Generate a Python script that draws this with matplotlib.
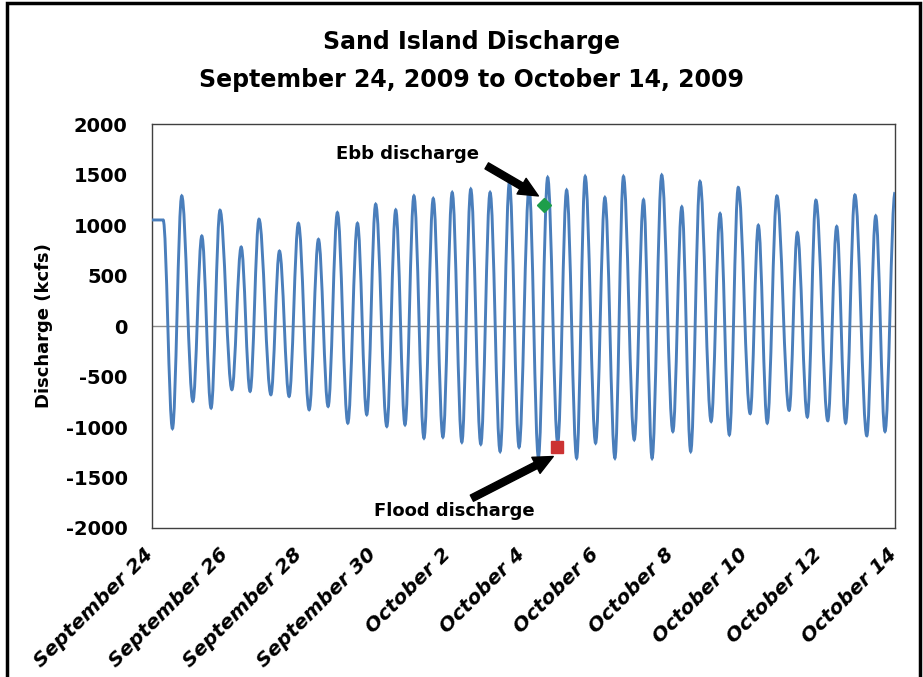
import numpy as np
import matplotlib.pyplot as plt
from matplotlib.path import Path
from matplotlib.patches import PathPatch, Rectangle

plt.rcParams["axes.unicode_minus"] = False

# tidal extrema: days after Sep 24 2009 00:00, discharge in kcfs
ext_day = [0.00, 0.30, 0.55, 0.80, 1.10, 1.34, 1.59, 1.83, 2.15, 2.40,
           2.64, 2.88, 3.20, 3.43, 3.69, 3.94, 4.23, 4.48, 4.74, 4.99,
           5.27, 5.53, 5.78, 6.02, 6.32, 6.56, 6.81, 7.05, 7.32, 7.57,
           7.83, 8.08, 8.34, 8.58, 8.85, 9.10, 9.37, 9.62, 9.88, 10.15,
           10.40, 10.65, 10.92, 11.16, 11.43, 11.66, 11.94, 12.19, 12.46, 12.69,
           12.98, 13.23, 13.46, 13.72, 14.02, 14.26, 14.50, 14.75, 15.05, 15.29,
           15.54, 15.78, 16.10, 16.32, 16.56, 16.82, 17.15, 17.37, 17.64, 17.87,
           18.19, 18.43, 18.67, 18.92, 19.24, 19.48, 19.73, 20.00]
ext_kcfs = [1050, 1050, -1015, 1288, -746, 891, -812, 1146, -630, 782,
            -647, 1057, -680, 742, -697, 1017, -829, 858, -796, 1123,
            -961, 1017, -878, 1206, -994, 1149, -978, 1288, -1110, 1262,
            -1100, 1322, -1150, 1355, -1170, 1322, -1242, 1421, -1200, 1370,
            -1300, 1471, -1160, 1345, -1308, 1481, -1159, 1272, -1308, 1481,
            -1126, 1249, -1310, 1494, -1044, 1179, -1242, 1431, -945, 1113,
            -1077, 1372, -868, 997, -961, 1288, -835, 925, -901, 1246,
            -938, 985, -961, 1298, -1087, 1090, -1044, 1322]

ebb_day, ebb_kcfs = 10.56, 1200
flood_day, flood_kcfs = 10.91, -1200

tick_days = [0, 2, 4, 6, 8, 10, 12, 14, 16, 18, 20]
tick_labels = ["September 24", "September 26", "September 28", "September 30",
               "October 2", "October 4", "October 6", "October 8",
               "October 10", "October 12", "October 14"]

FONT = "DejaVu Sans"

fig = plt.figure(figsize=(9.23, 6.77), dpi=100)
ax = fig.add_axes([0.1647, 0.2201, 0.8050, 0.5967])

# smooth curve through the extrema (flat tangents at each turning point)
k = 0.363
verts = [(ext_day[0], ext_kcfs[0])]
codes = [Path.MOVETO]
for i in range(1, len(ext_day)):
    x0, y0 = ext_day[i - 1], ext_kcfs[i - 1]
    x1, y1 = ext_day[i], ext_kcfs[i]
    dx = x1 - x0
    verts += [(x0 + k * dx, y0), (x1 - k * dx, y1), (x1, y1)]
    codes += [Path.CURVE4] * 3
ax.add_patch(PathPatch(Path(verts, codes), facecolor="none",
                       edgecolor="#4a7ebb", lw=2.1, zorder=3))

ax.axhline(0, color="#8c8c8c", lw=1.0, zorder=2)

ax.plot([ebb_day], [ebb_kcfs], marker="D", ms=7, color="#1e9e4a",
        mec="#1e9e4a", ls="none", zorder=4)
ax.plot([flood_day], [flood_kcfs], marker="s", ms=8, color="#cc3333",
        mec="#cc3333", ls="none", zorder=4)

arrow = dict(arrowstyle="simple,head_length=1.4,head_width=1.3,tail_width=0.5",
             mutation_scale=10, color="black", shrinkA=0, shrinkB=0)
ax.annotate("", xy=(10.40, 1288), xytext=(9.01, 1586), arrowprops=arrow, zorder=5)
ax.annotate("", xy=(10.80, -1292), xytext=(8.61, -1705), arrowprops=arrow, zorder=5)
ax.text(6.89, 1702, "Ebb discharge", ha="center", va="center",
        fontsize=13, fontweight="bold", family=FONT)
ax.text(8.13, -1831, "Flood discharge", ha="center", va="center",
        fontsize=13, fontweight="bold", family=FONT)

ax.set_xlim(0, 20)
ax.set_ylim(-2000, 2000)
ax.set_yticks(np.arange(-2000, 2001, 500))
ax.set_xticks(tick_days)
ax.set_xticklabels([])
# date labels hang slanted below each tick, nudged left for the italic lean
for d, lab in zip(tick_days, tick_labels):
    ax.annotate(lab, xy=(d, 0), xycoords=("data", "axes fraction"),
                xytext=(-6, -12), textcoords="offset points",
                rotation=45, ha="right", va="top", rotation_mode="anchor",
                fontsize=14.5, fontweight="bold", fontstyle="italic",
                family=FONT, annotation_clip=False)
for lab in ax.get_yticklabels():
    lab.set_fontsize(14)
    lab.set_fontweight("bold")
    lab.set_family(FONT)
ax.tick_params(axis="both", length=0)
ax.tick_params(axis="y", pad=17.5)
ax.set_ylabel("Discharge (kcfs)", fontsize=13, fontweight="bold",
              family=FONT, labelpad=9)
for sp in ax.spines.values():
    sp.set_color("#404040")
    sp.set_linewidth(1.0)

fig.text(0.511, 0.938, "Sand Island Discharge", ha="center", va="center",
         fontsize=17, fontweight="bold", family=FONT)
fig.text(0.511, 0.882, "September 24, 2009 to October 14, 2009", ha="center",
         va="center", fontsize=17, fontweight="bold", family=FONT)

fig.add_artist(Rectangle((0.0081, -0.02), 0.9885, 1.0163,
                         transform=fig.transFigure, fill=False,
                         ec="black", lw=2.5))

fig.savefig("out.png", dpi=100)
